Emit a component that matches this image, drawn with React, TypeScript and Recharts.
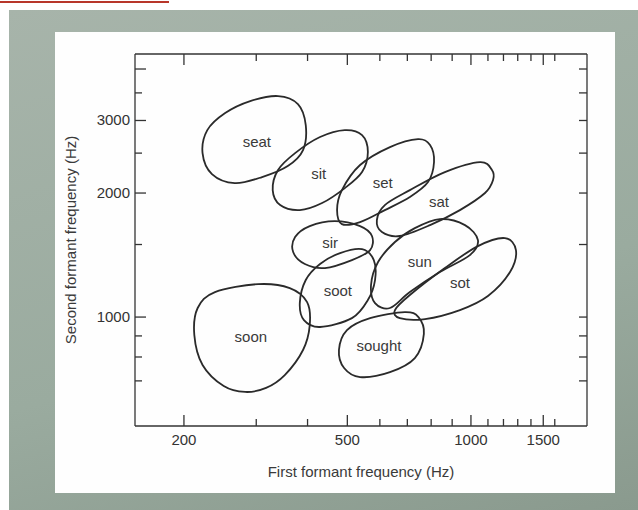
import React from 'react';
import { ComposedChart, Line, Scatter, XAxis, YAxis, Label } from 'recharts';

// first formant (x) ticks, Hz
const f1Ticks = [200, 300, 400, 500, 600, 700, 800, 900, 1000, 1100, 1200, 1300, 1400, 1500, 1600];
const f1Labels = [200, 500, 1000, 1500];
// second formant (y) ticks, Hz
const f2Ticks = [700, 800, 900, 1000, 1500, 2000, 2500, 3000, 3500, 4000];
const f2Labels = [1000, 2000, 3000];
const f2Long = [1000, 2000, 3000, 4000];

// outlines of each vowel region, traced clockwise as [F1, F2]
const seat = [[339, 3439], [379, 3289], [396, 2924], [390, 2543], [358, 2326], [310, 2187], [266, 2114], [234, 2224], [222, 2500], [228, 2843], [252, 3128], [290, 3344]];
const sit = [[493, 2843], [543, 2765], [561, 2515], [543, 2249], [493, 2056], [434, 1891], [383, 1818], [343, 1870], [329, 2033], [339, 2275], [373, 2500], [429, 2735]];
const set = [[743, 2704], [795, 2616], [813, 2378], [786, 2126], [710, 1956], [617, 1818], [537, 1700], [485, 1681], [472, 1818], [485, 2033], [537, 2339], [635, 2586]];
const sat = [[1052, 2378], [1125, 2275], [1132, 2150], [1082, 2000], [940, 1818], [795, 1672], [671, 1573], [607, 1608], [590, 1719], [617, 1870], [710, 2033], [864, 2249]];
const sir = [[466, 1710], [537, 1663], [574, 1573], [568, 1454], [513, 1375], [441, 1315], [394, 1345], [369, 1438], [373, 1564], [405, 1663]];
const soot = [[543, 1462], [580, 1375], [584, 1230], [561, 1100], [513, 994], [429, 946], [392, 983], [383, 1081], [396, 1230], [429, 1345], [480, 1430]];
const soon = [[303, 1202], [362, 1176], [399, 1087], [405, 956], [390, 832], [352, 723], [317, 673], [282, 658], [250, 680], [222, 765], [212, 904], [216, 1052], [238, 1150]];
const sun = [[840, 1729], [967, 1672], [1040, 1538], [994, 1414], [840, 1286], [710, 1150], [635, 1052], [584, 1081], [571, 1196], [594, 1360], [653, 1521], [730, 1644]];
const sot = [[1210, 1555], [1287, 1454], [1245, 1286], [1100, 1125], [940, 1040], [773, 989], [671, 994], [653, 1040], [710, 1131], [864, 1315], [1040, 1487]];
const sought = [[690, 1028], [745, 1000], [768, 910], [730, 795], [635, 735], [537, 715], [491, 752], [477, 832], [499, 930], [568, 994]];

const words = ['seat', 'sit', 'set', 'sat', 'sir', 'soot', 'sun', 'sot', 'soon', 'sought'];
const wordF1 = [301, 426, 610, 836, 454, 474, 751, 940, 291, 597];
const wordF2 = [2674, 2236, 2126, 1912, 1521, 1163, 1367, 1216, 899, 855];

const regions = [seat, sit, set, sat, sir, soot, sun, sot, soon, sought];
const regionData = regions.map((r) => r.map(([f1, f2]) => ({ f1, f2 })));
const wordData = words.map((word, i) => ({ word, f1: wordF1[i], f2: wordF2[i] }));

const INK = '#333';
const FONT = '"Liberation Sans", Arial, sans-serif';

// closed smooth curve through the points (catmull-rom)
const closedSmooth: any = (ctx: any) => {
  let pts: number[][] = [];
  return {
    areaStart() {},
    areaEnd() {},
    lineStart() {
      pts = [];
    },
    point(x: number, y: number) {
      pts.push([+x, +y]);
    },
    lineEnd() {
      const n = pts.length;
      if (!n) return;
      const p = (i: number) => pts[(i + n) % n];
      ctx.moveTo(pts[0][0], pts[0][1]);
      for (let i = 0; i < n; i++) {
        const a = p(i - 1), b = p(i), c = p(i + 1), d = p(i + 2);
        ctx.bezierCurveTo(
          b[0] + (c[0] - a[0]) / 6, b[1] + (c[1] - a[1]) / 6,
          c[0] - (d[0] - b[0]) / 6, c[1] - (d[1] - b[1]) / 6,
          c[0], c[1]
        );
      }
      ctx.closePath();
    },
  };
};

const BottomTick = (p: any) => {
  const v = p.payload.value;
  const big = f1Labels.includes(v);
  return (
    <g>
      <line x1={p.x} y1={p.y} x2={p.x} y2={p.y - (big ? 11 : 7)} stroke={INK} strokeWidth={1.3} />
      {big && (
        <text x={p.x} y={p.y + 19} textAnchor="middle" fontSize={15} fill={INK} fontFamily={FONT}>
          {v}
        </text>
      )}
    </g>
  );
};

const TopTick = (p: any) => {
  const big = f1Labels.includes(p.payload.value);
  return <line x1={p.x} y1={p.y} x2={p.x} y2={p.y + (big ? 11 : 7)} stroke={INK} strokeWidth={1.3} />;
};

const LeftTick = (p: any) => {
  const v = p.payload.value;
  const big = f2Long.includes(v);
  return (
    <g>
      <line x1={p.x} y1={p.y} x2={p.x + (big ? 11 : 7)} y2={p.y} stroke={INK} strokeWidth={1.3} />
      {f2Labels.includes(v) && (
        <text x={p.x - 5} y={p.y + 5} textAnchor="end" fontSize={15} fill={INK} fontFamily={FONT}>
          {v}
        </text>
      )}
    </g>
  );
};

const RightTick = (p: any) => (
  <line x1={p.x} y1={p.y} x2={p.x - 8} y2={p.y} stroke={INK} strokeWidth={1.3} />
);

const WordShape = (p: any) => (
  <text x={p.cx} y={p.cy} textAnchor="middle" dominantBaseline="central" fontSize={15} fill="#3a3a3a" fontFamily={FONT}>
    {p.payload.word}
  </text>
);

const xTitle = (p: any) => {
  const vb = p.viewBox;
  return (
    <text x={vb.x + vb.width / 2} y={vb.y + vb.height + 21} textAnchor="middle" fontSize={15} fill="#3a3a3a" fontFamily={FONT}>
      First formant frequency (Hz)
    </text>
  );
};

const yTitle = (p: any) => {
  const vb = p.viewBox;
  const x = vb.x - 15;
  const y = vb.y + vb.height / 2;
  return (
    <text x={x} y={y} transform={`rotate(-90 ${x} ${y})`} textAnchor="middle" dominantBaseline="central" fontSize={15} fill="#3a3a3a" fontFamily={FONT}>
      Second formant frequency (Hz)
    </text>
  );
};

const axisLine = { stroke: INK, strokeWidth: 1.3 };

export default function App() {
  return (
    <div style={{ position: 'absolute', left: 0, top: 0, width: 638, height: 510, background: '#fff', overflow: 'hidden' }}>
      <div style={{ position: 'absolute', left: 0, top: 1, width: 169, height: 2, background: '#b8362a' }} />
      <div style={{ position: 'absolute', left: 9, top: 10, right: 0, bottom: 0, background: 'linear-gradient(165deg, #a7b4aa 0%, #9aab9f 60%, #8a9a8e 100%)' }} />
      <div style={{ position: 'absolute', left: 55, top: 32, width: 560, height: 461, background: '#fefefe' }} />
      <div style={{ position: 'absolute', left: 0, top: 0 }}>
        <ComposedChart width={638} height={510} margin={{ top: 44, right: 41, bottom: 54, left: 85 }}>
          <XAxis
            dataKey="f1"
            type="number"
            scale="log"
            domain={[152, 1917]}
            allowDataOverflow
            ticks={f1Ticks}
            interval={0}
            height={30}
            tickSize={0}
            tickMargin={0}
            tickLine={false}
            axisLine={axisLine}
            tick={<BottomTick />}
          >
            <Label content={xTitle} />
          </XAxis>
          <XAxis
            xAxisId="top"
            orientation="top"
            dataKey="f1"
            type="number"
            scale="log"
            domain={[152, 1917]}
            allowDataOverflow
            ticks={f1Ticks}
            interval={0}
            height={10}
            tickSize={0}
            tickMargin={0}
            tickLine={false}
            axisLine={axisLine}
            tick={<TopTick />}
          />
          <YAxis
            dataKey="f2"
            type="number"
            scale="log"
            domain={[544, 4350]}
            allowDataOverflow
            ticks={f2Ticks}
            interval={0}
            width={50}
            tickSize={0}
            tickMargin={0}
            tickLine={false}
            axisLine={axisLine}
            tick={<LeftTick />}
          >
            <Label content={yTitle} />
          </YAxis>
          <YAxis
            yAxisId="right"
            orientation="right"
            dataKey="f2"
            type="number"
            scale="log"
            domain={[544, 4350]}
            allowDataOverflow
            ticks={f2Ticks}
            interval={0}
            width={10}
            tickSize={0}
            tickMargin={0}
            tickLine={false}
            axisLine={axisLine}
            tick={<RightTick />}
          />
          {regionData.map((d, i) => (
            <Line
              key={words[i]}
              data={d}
              dataKey="f2"
              type={closedSmooth}
              stroke="#2a2a2a"
              strokeWidth={1.8}
              fill="none"
              dot={false}
              activeDot={false}
              isAnimationActive={false}
            />
          ))}
          <Scatter data={wordData} dataKey="f2" shape={<WordShape />} isAnimationActive={false} />
        </ComposedChart>
      </div>
    </div>
  );
}
